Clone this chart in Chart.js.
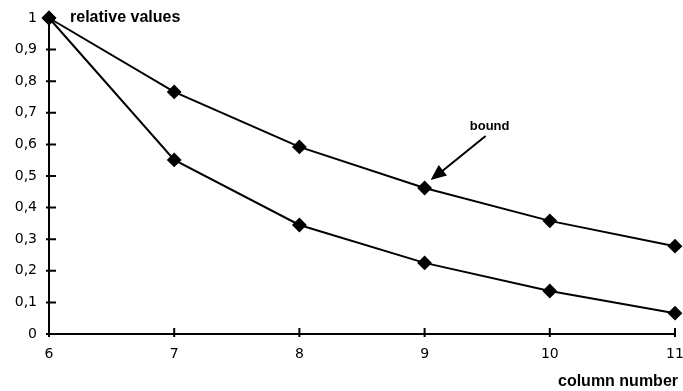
<!DOCTYPE html>
<html>
<head>
<meta charset="utf-8">
<script src="https://cdn.jsdelivr.net/npm/chart.js@4/dist/chart.umd.min.js"></script>
<style>
	html, body { margin: 0; padding: 0; background: #fff; }
	#wrap { width: 683px; height: 391px; }
</style>
</head>
<body>
<div id="wrap"><canvas id="myChart"></canvas></div>
<script>
/* globals Chart:false */
let columns = [6, 7, 8, 9, 10, 11];
let upperValues = [1, 0.766, 0.592, 0.462, 0.358, 0.278];
let lowerValues = [1, 0.551, 0.345, 0.225, 0.136, 0.066];
let yTicks = [0, 0.1, 0.2, 0.3, 0.4, 0.5, 0.6, 0.7, 0.8, 0.9, 1];

const tickFont = { family: 'DejaVu Sans, Verdana, sans-serif', size: 14 };
const labelFont = '16px Liberation Sans, Arial, sans-serif';

function toPoints(values) {
	return values.map((v, i) => ({ x: columns[i], y: v }));
}

function lineSet(values) {
	return {
		data: toPoints(values),
		borderColor: '#000',
		backgroundColor: '#000',
		borderWidth: 2,
		pointStyle: 'rectRot',
		pointRadius: 6,
		pointBackgroundColor: '#000',
		pointBorderColor: '#000',
		lineTension: 0,
		clip: false
	};
}

// inner tick marks, texts and the "bound" arrow
const decorations = {
	id: 'decorations',
	afterDraw(chart) {
		const ctx = chart.ctx;
		const xs = chart.scales.x;
		const ys = chart.scales.y;
		const area = chart.chartArea;
		ctx.save();
		ctx.strokeStyle = '#000';
		ctx.lineWidth = 2;
		ctx.beginPath();
		yTicks.forEach((t) => {
			let py = ys.getPixelForValue(t);
			ctx.moveTo(area.left - 3, py);
			ctx.lineTo(area.left + 7, py);
		});
		columns.forEach((c) => {
			let px = xs.getPixelForValue(c);
			ctx.moveTo(px, area.bottom + 3);
			ctx.lineTo(px, area.bottom - 6);
		});
		ctx.stroke();

		ctx.fillStyle = '#000';
		ctx.font = 'bold ' + labelFont;
		ctx.textBaseline = 'middle';
		ctx.textAlign = 'left';
		ctx.fillText('relative values', area.left + 21, area.top);
		ctx.textAlign = 'right';
		ctx.fillText('column number', area.right + 3, 382);

		// arrow to the upper curve at column 9
		let tipX = xs.getPixelForValue(9) + 6;
		let tipY = ys.getPixelForValue(upperValues[3]) - 8;
		let startX = tipX + 55;
		let startY = tipY - 44;
		ctx.font = 'bold 13px Liberation Sans, Arial, sans-serif';
		ctx.textAlign = 'center';
		ctx.fillText('bound', startX + 4, startY - 10);
		ctx.lineWidth = 2;
		ctx.beginPath();
		ctx.moveTo(startX, startY);
		ctx.lineTo(tipX + 8, tipY - 6);
		ctx.stroke();
		let ang = Math.atan2(tipY - startY, tipX - startX);
		ctx.beginPath();
		ctx.moveTo(tipX, tipY);
		ctx.lineTo(tipX - 17 * Math.cos(ang - 0.4), tipY - 17 * Math.sin(ang - 0.4));
		ctx.lineTo(tipX - 17 * Math.cos(ang + 0.4), tipY - 17 * Math.sin(ang + 0.4));
		ctx.closePath();
		ctx.fill();
		ctx.restore();
	}
};

let chartJson = {
	type: 'line',
	data: {
		datasets: [lineSet(upperValues), lineSet(lowerValues)]
	},
	options: {
		responsive: true,
		maintainAspectRatio: false,
		animation: false,
		layout: { autoPadding: false, padding: { top: 18, right: 8, left: 0, bottom: 0 } },
		plugins: {
			legend: { display: false },
			tooltip: { enabled: false }
		},
		scales: {
			x: {
				type: 'linear',
				min: 6,
				max: 11,
				afterFit: (scale) => {
					scale.height = 57;
					scale.paddingLeft = 0;
					scale.paddingRight = 0;
				},
				afterBuildTicks: (scale) => { scale.ticks = columns.map((c) => ({ value: c })); },
				grid: { display: false, drawTicks: false },
				border: { display: true, color: '#000', width: 2 },
				ticks: { color: '#000', font: tickFont, padding: 12, maxRotation: 0 }
			},
			y: {
				min: 0,
				max: 1,
				afterFit: (scale) => {
					scale.width = 49;
					scale.paddingTop = 0;
					scale.paddingBottom = 0;
				},
				afterBuildTicks: (scale) => { scale.ticks = yTicks.map((t) => ({ value: t })); },
				grid: { display: false, drawTicks: false },
				border: { display: true, color: '#000', width: 2 },
				ticks: {
					color: '#000',
					font: tickFont,
					padding: 12,
					callback: (v) => String(Math.round(v * 10) / 10).replace('.', ',')
				}
			}
		}
	},
	plugins: [decorations]
};

const ctx = document.getElementById('myChart');
// eslint-disable-next-line no-unused-vars
const myChart = new Chart(ctx, chartJson);
</script>
</body>
</html>
